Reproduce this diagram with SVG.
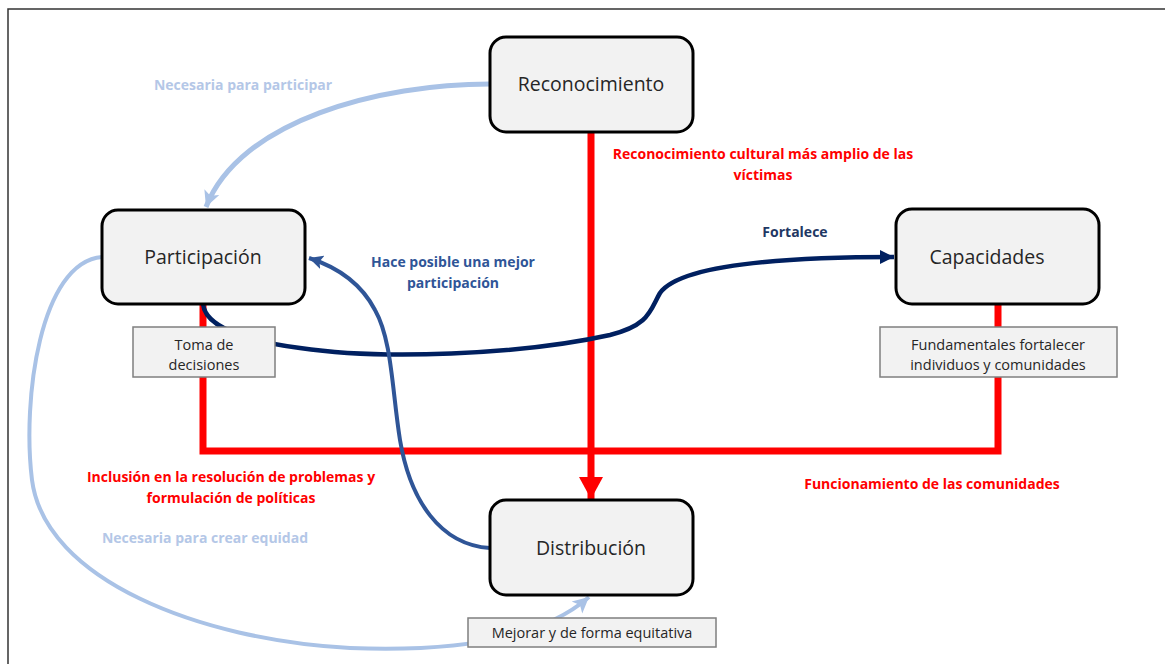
<svg xmlns="http://www.w3.org/2000/svg" width="1165" height="664" viewBox="0 0 1165 664">
<style>
.node rect{fill:#f2f2f2;stroke:#000;stroke-width:3}
.node text{font-family:"Open Sans","Liberation Sans",sans-serif;font-size:19.5px;fill:#262626;text-anchor:middle}
.sub rect{fill:#f2f2f2;stroke:#7f7f7f;stroke-width:1.5}
.sub text{font-family:"Open Sans","Liberation Sans",sans-serif;font-size:14.5px;fill:#262626;text-anchor:middle}
.lbl{font-family:"Open Sans","Liberation Sans",sans-serif;font-size:14px;font-weight:bold;text-anchor:middle}
.red{fill:#ff0000}.lb{fill:#b4c7e7}.nv{fill:#1f3864}.mb{fill:#2f5597}
.c{fill:none}
</style>
<defs>
<marker id="aRed" markerUnits="userSpaceOnUse" markerWidth="28" markerHeight="28" refX="22" refY="13" orient="auto"><path d="M0,1 L22,13 L0,25 Z" fill="#ff0000"/></marker>
<marker id="aNavy" markerUnits="userSpaceOnUse" markerWidth="16" markerHeight="16" refX="14" refY="8" orient="auto"><path d="M0,1 L14,8 L0,15 Z" fill="#002060"/></marker>
<marker id="aMb" markerUnits="userSpaceOnUse" markerWidth="16" markerHeight="16" refX="14" refY="8" orient="auto"><path d="M0,1 L14,8 L0,15 L3,8 Z" fill="#2f5597"/></marker>
<marker id="aLb" markerUnits="userSpaceOnUse" markerWidth="18" markerHeight="18" refX="16" refY="9" orient="auto"><path d="M0,1 L16,9 L0,17 L4,9 Z" fill="#a9c2e6"/></marker>
</defs>
<rect x="8" y="9" width="1170" height="670" fill="#fff" stroke="#333" stroke-width="1.5"/>
<g id="connectors">
<path class="c" d="M203,304 V451 H998 V304" stroke="#ff0000" stroke-width="7"/>
<path class="c" d="M591,132 V499" stroke="#ff0000" stroke-width="7" marker-end="url(#aRed)"/>
<path class="c" d="M203,304 C205,325 240,340 300,348 C380,360 520,355 610,335 C650,325 650,310 660,293 C680,265 780,257 894,257" stroke="#002060" stroke-width="4.5" marker-end="url(#aNavy)"/>
<path class="c" d="M490,548 C440,545 410,500 400,440 C392,390 392,340 375,310 C362,285 340,268 309,258" stroke="#2f5597" stroke-width="4" marker-end="url(#aMb)"/>
<path class="c" d="M490,84 C380,84 240,120 206,207" stroke="#a9c2e6" stroke-width="5" marker-end="url(#aLb)"/>
<path class="c" d="M102,257 C40,262 22,400 32,480 C45,580 200,640 350,648 C450,652 540,640 589,597" stroke="#a9c2e6" stroke-width="4" marker-end="url(#aLb)"/>
</g>
<g id="reconocimiento" class="node"><rect x="490" y="37" width="203" height="95" rx="16"/><text x="591" y="91">Reconocimiento</text></g>
<g id="participacion" class="node"><rect x="102" y="210" width="203" height="94" rx="16"/><text x="203" y="264">Participación</text></g>
<g id="capacidades" class="node"><rect x="896" y="209" width="203" height="95" rx="16"/><text x="987" y="264">Capacidades</text></g>
<g id="distribucion" class="node"><rect x="490" y="500" width="203" height="95" rx="16"/><text x="591" y="555">Distribución</text></g>
<g id="toma" class="sub"><rect x="133" y="327" width="142" height="50"/><text x="204" y="350">Toma de</text><text x="204" y="370">decisiones</text></g>
<g id="fundamentales" class="sub"><rect x="880" y="327" width="237" height="50"/><text x="998" y="350">Fundamentales fortalecer</text><text x="998" y="370">individuos y comunidades</text></g>
<g id="mejorar" class="sub"><rect x="468" y="618" width="248" height="29"/><text x="592" y="638">Mejorar y de forma equitativa</text></g>
<g id="labels">
<text class="lbl lb" x="243" y="90">Necesaria para participar</text>
<text class="lbl red" x="763" y="159">Reconocimiento cultural más amplio de las</text>
<text class="lbl red" x="763" y="180">víctimas</text>
<text class="lbl nv" x="795" y="237">Fortalece</text>
<text class="lbl mb" x="453" y="267">Hace posible una mejor</text>
<text class="lbl mb" x="453" y="288">participación</text>
<text class="lbl red" x="231" y="482">Inclusión en la resolución de problemas y</text>
<text class="lbl red" x="231" y="503">formulación de políticas</text>
<text class="lbl lb" x="205" y="543">Necesaria para crear equidad</text>
<text class="lbl red" x="932" y="489">Funcionamiento de las comunidades</text>
</g>
</svg>
